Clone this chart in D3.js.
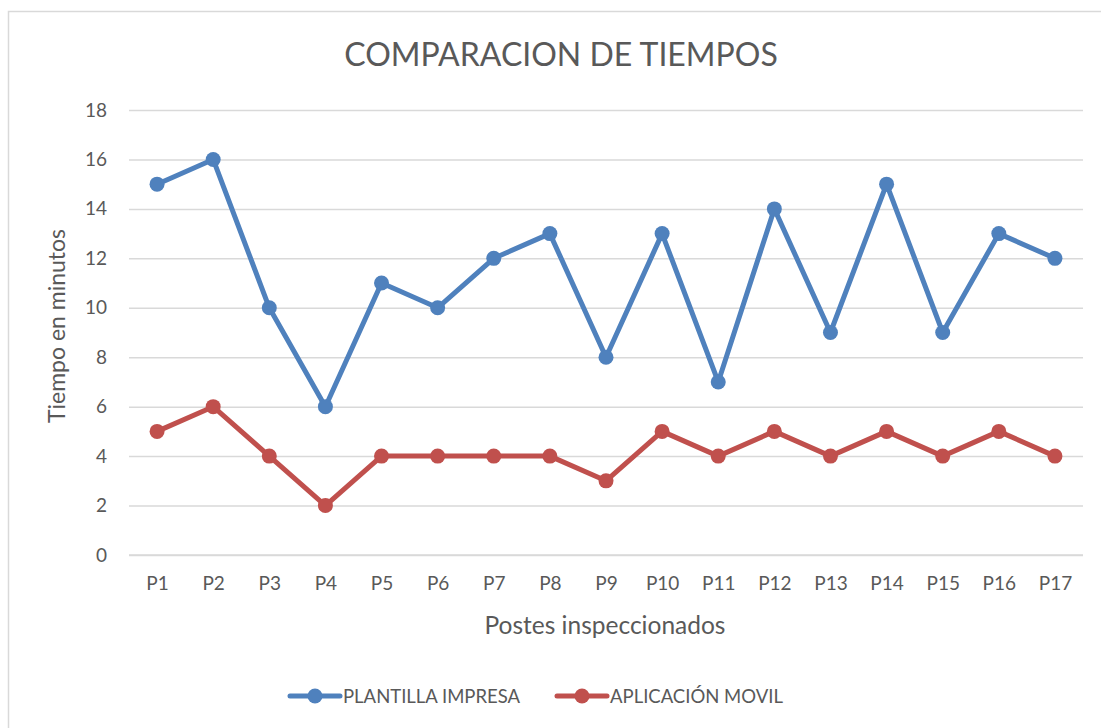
<!DOCTYPE html>
<html>
<head>
<meta charset="utf-8">
<script src="https://cdn.jsdelivr.net/npm/d3@7"></script>
<style>
  html, body { margin: 0; padding: 0; background: #fff; }
  svg { display: block; }
  text { font-family: Lato, "Open Sans", sans-serif; fill: #595959; }
</style>
</head>
<body>
<svg id="chart" width="1101" height="728"></svg>
<script>
// Inspection posts and timing (minutes) per method
const categories = ["P1","P2","P3","P4","P5","P6","P7","P8","P9","P10","P11","P12","P13","P14","P15","P16","P17"];
const plantillaImpresa = [15,16,10,6,11,10,12,13,8,13,7,14,9,15,9,13,12];
const aplicacionMovil  = [5,6,4,2,4,4,4,4,3,5,4,5,4,5,4,5,4];
const yTicks = [0,2,4,6,8,10,12,14,16,18];

const series = [
  { name: "PLANTILLA IMPRESA", values: plantillaImpresa, color: "#4F81BD" },
  { name: "APLICACIÓN MOVIL",  values: aplicacionMovil,  color: "#C0504D" }
];

const svg = d3.select("#chart");
const W = 1101, H = 728;
const plot = { left: 129, right: 1083, top: 110, bottom: 555 };

// outer chart frame
svg.append("rect")
  .attr("x", 8.5).attr("y", 11.5)
  .attr("width", W + 10).attr("height", H + 10)
  .attr("fill", "#fff").attr("stroke", "#d9d9d9").attr("stroke-width", 1.5);

const x = d3.scalePoint().domain(categories).range([plot.left, plot.right]).padding(0.5);
const y = d3.scaleLinear().domain([0, 18]).range([plot.bottom, plot.top]);

// horizontal gridlines + y labels
const yAxis = d3.axisLeft(y).tickValues(yTicks).tickSize(-(plot.right - plot.left)).tickPadding(22);
const gy = svg.append("g").attr("transform", `translate(${plot.left},0)`).call(yAxis);
gy.select(".domain").remove();
gy.selectAll(".tick line").attr("stroke", "#d9d9d9").attr("stroke-width", 1.5);
gy.selectAll(".tick text").attr("font-size", 19).style("fill", "#595959")
  .attr("font-family", "Lato, sans-serif");

// category axis
const xAxis = d3.axisBottom(x).tickSize(0).tickPadding(22);
const gx = svg.append("g").attr("transform", `translate(0,${plot.bottom})`).call(xAxis);
gx.select(".domain").attr("stroke", "#d9d9d9").attr("stroke-width", 1.5)
  .attr("d", `M${plot.left},0H${plot.right}`);
gx.selectAll(".tick text").attr("font-size", 19).style("fill", "#595959")
  .attr("font-family", "Lato, sans-serif");

// lines and markers
const line = d3.line().x((d, i) => x(categories[i])).y(d => y(d));
series.forEach(s => {
  svg.append("path").datum(s.values)
    .attr("d", line).attr("fill", "none")
    .attr("stroke", s.color).attr("stroke-width", 5)
    .attr("stroke-linejoin", "round").attr("stroke-linecap", "round");
  svg.append("g").selectAll("circle").data(s.values).join("circle")
    .attr("cx", (d, i) => x(categories[i])).attr("cy", d => y(d))
    .attr("r", 7.5).attr("fill", s.color);
});

// title and axis titles
svg.append("text").attr("x", 561).attr("y", 66).attr("text-anchor", "middle")
  .attr("font-size", 32).text("COMPARACION DE TIEMPOS");
svg.append("text").attr("x", 605).attr("y", 634).attr("text-anchor", "middle")
  .attr("font-size", 24.5).text("Postes inspeccionados");
svg.append("text").attr("transform", "translate(65,326) rotate(-90)")
  .attr("text-anchor", "middle").attr("font-size", 23).text("Tiempo en minutos");

// legend
const legendItems = [
  { s: series[0], x0: 290, x1: 340, tx: 343 },
  { s: series[1], x0: 557, x1: 607, tx: 610 }
];
const ly = 696;
legendItems.forEach(it => {
  const g = svg.append("g");
  g.append("line").attr("x1", it.x0).attr("x2", it.x1).attr("y1", ly).attr("y2", ly)
    .attr("stroke", it.s.color).attr("stroke-width", 5).attr("stroke-linecap", "round");
  g.append("circle").attr("cx", (it.x0 + it.x1) / 2).attr("cy", ly).attr("r", 7.5).attr("fill", it.s.color);
  g.append("text").attr("x", it.tx).attr("y", ly + 7).attr("font-size", 18.5).text(it.s.name);
});
</script>
</body>
</html>
